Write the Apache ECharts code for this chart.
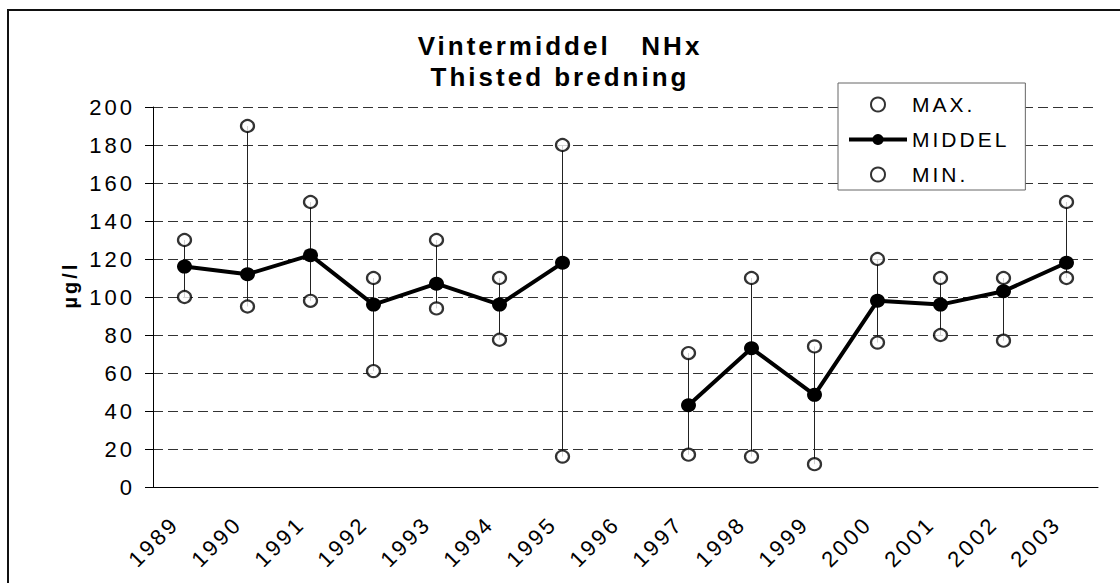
<!DOCTYPE html>
<html><head><meta charset="utf-8">
<script src="https://cdn.jsdelivr.net/npm/echarts@6/dist/echarts.min.js"></script>
<style>
html,body{margin:0;padding:0;background:#fff;}
#chart{width:1120px;height:583px;}
#chart text{letter-spacing:3px;}
</style></head><body><div id="chart"></div>
<script>
const years = ['1989','1990','1991','1992','1993','1994','1995','1996','1997','1998','1999','2000','2001','2002','2003'];
const maxValues  = [130, 190, 150, 110, 130, 110, 180, null, 70.5, 110, 74, 120, 110, 110, 150];
const meanValues = [116, 112, 122, 96, 107, 96, 118, null, 43, 73, 48.5, 98, 96, 103, 118];
const minValues  = [100, 95, 98, 61, 94, 77.5, 16, null, 17, 16, 12, 76, 80, 77, 110];
const yTicks = [0, 20, 40, 60, 80, 100, 120, 140, 160, 180, 200];
const titleText = 'Vintermiddel   NHx\nThisted bredning';
const yName = 'µg/l';
const seriesNames = ['MAX.', 'MIDDEL', 'MIN.'];

const FONT = 'Liberation Sans, Arial, sans-serif';
const rangeData = [];
years.forEach((y, i) => {
  if (minValues[i] != null && maxValues[i] != null) rangeData.push([i, minValues[i], maxValues[i]]);
});

const chart = echarts.init(document.getElementById('chart'), null, {renderer: 'svg'});
const openCircle = {
  symbol: 'circle', symbolSize: [13, 12],
  itemStyle: {color: '#fff', borderColor: '#000', borderWidth: 2.2}
};
chart.setOption({
  animation: false,
  backgroundColor: '#fff',
  title: {
    text: titleText, left: 'center', top: 25,
    textStyle: {fontFamily: FONT, fontWeight: 'bold', fontSize: 26, lineHeight: 31, color: '#000'}
  },
  legend: {
    orient: 'vertical', left: 838, top: 83,
    padding: [11, 34, 5, 9], itemGap: 14, itemWidth: 58, itemHeight: 14,
    borderColor: '#666', borderWidth: 1, backgroundColor: '#fff',
    textStyle: {fontFamily: FONT, fontSize: 21, color: '#000'},
    data: [
      {name: seriesNames[0]},
      {name: seriesNames[1], lineStyle: {width: 4, color: '#000'}},
      {name: seriesNames[2]}
    ]
  },
  grid: {left: 153, right: 22, top: 107, bottom: 96, outerBoundsMode: 'none'},
  xAxis: [{
    type: 'category', data: years, boundaryGap: true,
    axisLine: {lineStyle: {color: '#000', width: 1}},
    axisTick: {length: 7, lineStyle: {color: '#000'}},
    axisLabel: {interval: 0, rotate: 45, margin: 24, padding: [0, 13, 0, 0],
      fontFamily: FONT, fontSize: 22, color: '#000'},
    splitLine: {show: false}
  }, {
    type: 'category', data: years, boundaryGap: true, position: 'bottom',
    axisLine: {show: false},
    axisTick: {inside: true, length: 7, lineStyle: {color: '#000'}},
    axisLabel: {show: false}, splitLine: {show: false}
  }],
  yAxis: {
    type: 'value', min: yTicks[0], max: yTicks[yTicks.length - 1], interval: yTicks[1] - yTicks[0],
    name: yName, nameLocation: 'middle', nameRotate: 90, nameGap: 73,
    nameTextStyle: {fontFamily: FONT, fontWeight: 'bold', fontSize: 20, color: '#000', padding: [0, 0, 0, 24]},
    axisLine: {show: true, lineStyle: {color: '#000', width: 1}},
    axisTick: {show: true, length: 8, lineStyle: {color: '#000'}},
    axisLabel: {margin: 18, fontFamily: FONT, fontSize: 22, color: '#000'},
    splitLine: {show: true, lineStyle: {color: '#333', width: 1, type: [10, 5]}}
  },
  graphic: [{
    type: 'rect', silent: true, z: -10,
    shape: {x: 8, y: 10, width: 1200, height: 640},
    style: {fill: 'none', stroke: '#111', lineWidth: 2}
  }],
  series: [{
    type: 'custom', name: 'range', z: 1,
    data: rangeData,
    encode: {x: 0, y: [1, 2]},
    renderItem: function (params, api) {
      const lo = api.coord([api.value(0), api.value(1)]);
      const hi = api.coord([api.value(0), api.value(2)]);
      return {type: 'line', shape: {x1: lo[0], y1: lo[1], x2: hi[0], y2: hi[1]},
        style: {stroke: '#222', lineWidth: 1}};
    }
  }, Object.assign({
    type: 'scatter', name: seriesNames[0], z: 4, data: maxValues
  }, openCircle), {
    type: 'line', name: seriesNames[1], z: 3, data: meanValues,
    connectNulls: false, symbol: 'circle', symbolSize: [15, 14], showSymbol: true,
    itemStyle: {color: '#000'}, lineStyle: {color: '#000', width: 4}
  }, Object.assign({
    type: 'scatter', name: seriesNames[2], z: 4, data: minValues
  }, openCircle)]
});
</script></body></html>
